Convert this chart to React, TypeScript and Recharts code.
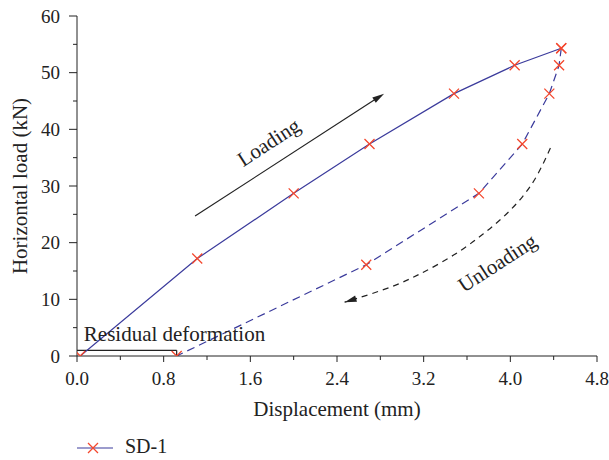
import React from 'react';
import { ComposedChart, Line, XAxis, YAxis, ReferenceLine, ReferenceDot, Legend, Label } from 'recharts';

const FONT = '"Liberation Serif", "Times New Roman", serif';
const BLUE = '#3b3b9c';
const RED = '#f4472d';
const INK = '#222';

// SD-1, loading branch (displacement mm, load kN)
const loadDisp = [0.03, 1.11, 2.0, 2.7, 3.48, 4.04, 4.47];
const loadForce = [0, 17.2, 28.7, 37.4, 46.3, 51.3, 54.3];

// SD-1, unloading branch
const unloadDisp = [4.47, 4.45, 4.36, 4.11, 3.71, 2.67, 0.92];
const unloadForce = [54.3, 51.3, 46.3, 37.4, 28.7, 16.1, 0];

// dashed "Unloading" guide arrow
const guideDisp = [4.37, 4.25, 4.12, 3.94, 3.75, 3.57, 3.35, 3.14, 2.95, 2.71, 2.47];
const guideForce = [36.7, 31.7, 28.1, 24.5, 21.5, 18.9, 16.3, 14.2, 12.5, 10.9, 9.5];

const xTicks = [0, 0.4, 0.8, 1.2, 1.6, 2.0, 2.4, 2.8, 3.2, 3.6, 4.0, 4.4, 4.8];
const xMajor = ['0.0', '0.8', '1.6', '2.4', '3.2', '4.0', '4.8'];
const yTicks = [0, 5, 10, 15, 20, 25, 30, 35, 40, 45, 50, 55, 60];
const yMajor = ['0', '10', '20', '30', '40', '50', '60'];

const loadData = loadDisp.map((x, i) => ({ x, y: loadForce[i] }));
const unloadData = unloadDisp.map((x, i) => ({ x, y: unloadForce[i] }));
const guideData = guideDisp.map((x, i) => ({ x, y: guideForce[i] }));

const xLabel = (v: number) => xMajor.find(s => Math.abs(parseFloat(s) - v) < 1e-6);
const yLabel = (v: number) => yMajor.find(s => Math.abs(parseFloat(s) - v) < 1e-6);

const BottomTick = (p: any) => {
  const lab = xLabel(p.payload.value);
  return (
    <g>
      <line x1={p.x} x2={p.x} y1={p.y} y2={p.y + (lab ? 6 : 4)} stroke={INK} />
      {lab && (
        <text x={p.x} y={p.y + 22} textAnchor="middle" dominantBaseline="central" fontFamily={FONT} fontSize={19} fill={INK}>
          {lab}
        </text>
      )}
    </g>
  );
};

const TopTick = (p: any) => {
  const major = !!xLabel(p.payload.value);
  return <line x1={p.x} x2={p.x} y1={p.y} y2={p.y + (major ? 8 : 5)} stroke={INK} />;
};

const LeftTick = (p: any) => {
  const lab = yLabel(p.payload.value);
  return (
    <g>
      <line x1={p.x - (lab ? 8 : 4)} x2={p.x} y1={p.y} y2={p.y} stroke={INK} />
      {lab && (
        <text x={p.x - 17} y={p.y} textAnchor="end" dominantBaseline="central" fontFamily={FONT} fontSize={19} fill={INK}>
          {lab}
        </text>
      )}
    </g>
  );
};

const RightTick = (p: any) => {
  const major = !!yLabel(p.payload.value);
  return <line x1={p.x - (major ? 7 : 4)} x2={p.x} y1={p.y} y2={p.y} stroke={INK} />;
};

const Cross = (p: any) => {
  const { cx, cy, index } = p;
  if (cx == null || cy == null) return <g key={index} />;
  const s = 5;
  return (
    <path
      key={index}
      d={`M${cx - s},${cy - s}L${cx + s},${cy + s}M${cx - s},${cy + s}L${cx + s},${cy - s}`}
      stroke={RED}
      strokeWidth={1.3}
      fill="none"
    />
  );
};

const head = (tx: number, ty: number, ang: number) => {
  const L = 12;
  const W = 3.2;
  const bx = tx - L * Math.cos(ang);
  const by = ty - L * Math.sin(ang);
  const px = -Math.sin(ang) * W;
  const py = Math.cos(ang) * W;
  return `M${tx},${ty}L${bx + px},${by + py}L${bx - px},${by - py}Z`;
};

const GuideTip = (p: any) => {
  const { cx, cy, index, points } = p;
  const last = points ? points.length - 1 : guideData.length - 1;
  if (index !== last || cx == null) return <g key={index} />;
  let ang = (163 * Math.PI) / 180;
  if (points && points[index - 1]) ang = Math.atan2(cy - points[index - 1].y, cx - points[index - 1].x);
  return <path key={index} d={head(cx, cy, ang)} fill={INK} />;
};

const ArrowLine = (p: any) => {
  const { x1, y1, x2, y2 } = p;
  const ang = Math.atan2(y2 - y1, x2 - x1);
  return (
    <g>
      <line x1={x1} y1={y1} x2={x2 - 10 * Math.cos(ang)} y2={y2 - 10 * Math.sin(ang)} stroke={INK} strokeWidth={1.2} />
      <path d={head(x2, y2, ang)} fill={INK} />
    </g>
  );
};

const note = (text: string, angle: number, baseline: 'central' | 'auto') => (p: any) => (
  <text
    x={p.cx}
    y={p.cy}
    transform={`rotate(${angle} ${p.cx} ${p.cy})`}
    textAnchor="middle"
    dominantBaseline={baseline}
    fontFamily={FONT}
    fontSize={21}
    fill={INK}
  >
    {text}
  </text>
);

const XTitle = (p: any) => {
  const vb = p.viewBox;
  return (
    <text x={vb.x + vb.width / 2} y={vb.y + 53} textAnchor="middle" dominantBaseline="central" fontFamily={FONT} fontSize={21} fill={INK}>
      Displacement (mm)
    </text>
  );
};

const YTitle = (p: any) => {
  const vb = p.viewBox;
  const cx = vb.x + 20;
  const cy = vb.y + vb.height / 2;
  return (
    <text x={cx} y={cy} transform={`rotate(-90 ${cx} ${cy})`} textAnchor="middle" dominantBaseline="central" fontFamily={FONT} fontSize={21} fill={INK}>
      Horizontal load (kN)
    </text>
  );
};

const LegendBox = (props: any) => {
  const items = (props.payload || []).filter((e: any) => e.type !== 'none');
  return (
    <div style={{ height: 40, position: 'relative' }}>
      {items.map((e: any) => (
        <div key={e.value} style={{ position: 'absolute', left: 76, top: 14, display: 'flex', alignItems: 'center' }}>
          <svg width={38} height={20}>
            <line x1={1} x2={37} y1={12} y2={12} stroke={BLUE} strokeWidth={1.2} />
            <path d="M12,7L22,17M12,17L22,7" stroke={RED} strokeWidth={1.3} fill="none" />
          </svg>
          <span style={{ marginLeft: 11, fontFamily: FONT, fontSize: 20, color: INK, lineHeight: '24px' }}>{e.value}</span>
        </div>
      ))}
    </div>
  );
};

export default function App() {
  return (
    <div style={{ position: 'absolute', left: 0, top: 0, width: 609, height: 460, background: '#fff' }}>
      <ComposedChart width={609} height={460} margin={{ top: 16, right: 12, bottom: 0, left: 0 }}>
        <XAxis
          xAxisId="b"
          dataKey="x"
          type="number"
          domain={[0, 4.8]}
          ticks={xTicks}
          interval={0}
          allowDataOverflow
          height={64}
          tickSize={0}
          tickMargin={0}
          tickLine={false}
          tick={BottomTick}
          axisLine={{ stroke: INK }}
        >
          <Label content={XTitle} />
        </XAxis>
        <XAxis
          xAxisId="t"
          orientation="top"
          type="number"
          domain={[0, 4.8]}
          ticks={xTicks}
          interval={0}
          allowDataOverflow
          height={0}
          tickSize={0}
          tickMargin={0}
          tickLine={false}
          tick={TopTick}
          axisLine={{ stroke: INK }}
        />
        <YAxis
          yAxisId="l"
          type="number"
          domain={[0, 60]}
          ticks={yTicks}
          interval={0}
          allowDataOverflow
          width={77}
          tickSize={0}
          tickMargin={0}
          tickLine={false}
          tick={LeftTick}
          axisLine={{ stroke: INK }}
        >
          <Label content={YTitle} />
        </YAxis>
        <YAxis
          yAxisId="r"
          orientation="right"
          type="number"
          domain={[0, 60]}
          ticks={yTicks}
          interval={0}
          allowDataOverflow
          width={0}
          tickSize={0}
          tickMargin={0}
          tickLine={false}
          tick={RightTick}
          axisLine={{ stroke: INK }}
        />

        <ReferenceLine xAxisId="b" yAxisId="l" segment={[{ x: 0, y: 1 }, { x: 0.92, y: 1 }]} stroke={INK} strokeWidth={1.2} />
        <ReferenceLine xAxisId="b" yAxisId="l" segment={[{ x: 0.92, y: 1 }, { x: 0.92, y: 0 }]} stroke={INK} strokeWidth={1.2} />
        <ReferenceLine xAxisId="b" yAxisId="l" segment={[{ x: 1.09, y: 24.7 }, { x: 2.835, y: 46.3 }]} shape={ArrowLine} />

        <ReferenceDot xAxisId="b" yAxisId="l" x={1.77} y={37.7} r={0} shape={note('Loading', -33, 'central')} />
        <ReferenceDot xAxisId="b" yAxisId="l" x={3.88} y={16.4} r={0} shape={note('Unloading', -33, 'central')} />
        <ReferenceDot xAxisId="b" yAxisId="l" x={0.9} y={2.6} r={0} shape={note('Residual deformation', 0, 'auto')} />

        <Line
          xAxisId="b"
          yAxisId="l"
          data={guideData}
          dataKey="y"
          type="basis"
          stroke={INK}
          strokeWidth={1.2}
          strokeDasharray="6 5"
          dot={GuideTip}
          activeDot={false}
          legendType="none"
          isAnimationActive={false}
        />
        <Line
          xAxisId="b"
          yAxisId="l"
          data={unloadData}
          dataKey="y"
          type="linear"
          stroke={BLUE}
          strokeWidth={1.2}
          strokeDasharray="8 5"
          dot={Cross}
          activeDot={false}
          legendType="none"
          isAnimationActive={false}
        />
        <Line
          xAxisId="b"
          yAxisId="l"
          data={loadData}
          dataKey="y"
          name="SD-1"
          type="linear"
          stroke={BLUE}
          strokeWidth={1.2}
          dot={Cross}
          activeDot={false}
          isAnimationActive={false}
        />

        <Legend verticalAlign="bottom" align="left" content={LegendBox} wrapperStyle={{ left: 0, bottom: 0, width: 609 }} />
      </ComposedChart>
    </div>
  );
}
